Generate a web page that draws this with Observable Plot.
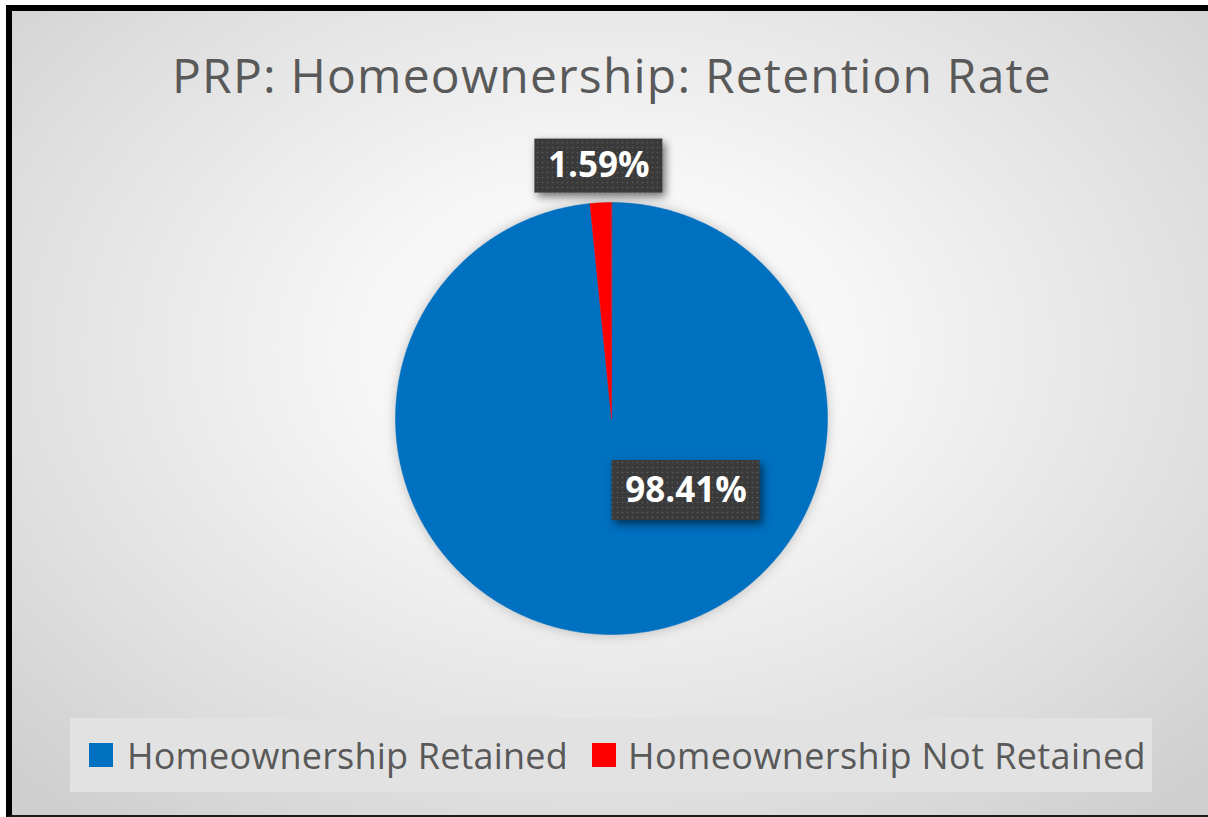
<!DOCTYPE html>
<html><head><meta charset="utf-8">
<script src="https://cdn.jsdelivr.net/npm/d3@7"></script>
<script src="https://cdn.jsdelivr.net/npm/@observablehq/plot@0.6"></script>
<style>
body{margin:0;background:#fff;width:1208px;height:817px;overflow:hidden;position:relative;font-family:"Open Sans",Lato,sans-serif;}
#frame{position:absolute;left:6px;top:5px;width:1202px;height:812px;box-sizing:border-box;border-top:6px solid #000;border-left:6px solid #000;border-bottom:2px solid #1a1a1a;
background:radial-gradient(ellipse 70% 75% at 50% 42%, #ffffff 0%, #f6f6f6 30%, #dedede 75%, #cfcfcf 100%);}
#title{position:absolute;left:172px;top:51px;color:#595959;font-size:48px;line-height:1;white-space:nowrap;}
#legendbox{position:absolute;left:70px;top:718px;width:1082px;height:74px;background:#e2e2e2;}
.sw{position:absolute;top:743px;width:24px;height:24px;}
.lt{position:absolute;top:738px;color:#595959;font-size:36px;line-height:1;white-space:nowrap;}
#chart{position:absolute;left:0;top:0;}
</style></head>
<body>
<div id="frame"></div>
<div id="title">PRP: Homeownership: Retention Rate</div>
<div id="legendbox"></div>
<div id="legend"></div>
<div id="chart"></div>
<script>
const categories = ["Homeownership Retained", "Homeownership Not Retained"];
const values = [98.41, 1.59];
const colors = ["#0070C0", "#FF0000"];
const labels = ["98.41%", "1.59%"];

// build sector outlines (clockwise from 12 o'clock, like Excel)
const total = d3.sum(values);
const sectors = [];
const labelPts = [];
let acc = 0;
categories.forEach((c, i) => {
  const a0 = acc / total * 2 * Math.PI;
  acc += values[i];
  const a1 = acc / total * 2 * Math.PI;
  sectors.push({category: c, x: 0, y: 0});
  const n = Math.max(2, Math.ceil((a1 - a0) / (Math.PI / 360)));
  for (let k = 0; k <= n; k++) {
    const a = a0 + (a1 - a0) * k / n;
    sectors.push({category: c, x: Math.sin(a), y: Math.cos(a)});
  }
  const small = values[i] / total < 0.1;
  const am = small ? (a0 + a1) / 2 : 134 * Math.PI / 180;
  const r = small ? 1.17 : 0.48;
  labelPts.push({category: c, label: labels[i], x: r * Math.sin(am), y: r * Math.cos(am), small});
});

const font = "'Open Sans', Lato, sans-serif";
const plot = Plot.plot({
  width: 1208, height: 817,
  margin: 0,
  style: {background: "transparent", overflow: "visible"},
  x: {domain: [-1, 1], range: [395, 827], axis: null},
  y: {domain: [-1, 1], range: [634, 202], axis: null},
  color: {domain: categories, range: colors},
  marks: [
    Plot.line(sectors, {x: "x", y: "y", z: "category", fill: "category", stroke: "category", strokeWidth: 0.5, curve: "linear-closed"}),
    Plot.rect(labelPts.filter(d => !d.small), {x1: "x", x2: "x", y1: "y", y2: "y", insetLeft: -74, insetRight: -74, insetTop: -30, insetBottom: -30, fill: "#3c3c3c"}),
    Plot.rect(labelPts.filter(d => d.small), {x1: "x", x2: "x", y1: "y", y2: "y", insetLeft: -64, insetRight: -64, insetTop: -27, insetBottom: -27, fill: "#3c3c3c"}),
    Plot.text(labelPts, {x: "x", y: "y", text: "label", fill: "white", fontSize: 35, fontWeight: "bold", fontFamily: font, dy: 0})
  ]
});
document.getElementById("chart").appendChild(plot);

const svg = d3.select(plot);
const defs = svg.insert("defs", ":first-child");
const pat = defs.append("pattern").attr("id", "dots").attr("width", 5).attr("height", 5).attr("patternUnits", "userSpaceOnUse");
pat.append("rect").attr("width", 5).attr("height", 5).attr("fill", "#3a3a3a");
pat.append("circle").attr("cx", 2.5).attr("cy", 2.5).attr("r", 0.8).attr("fill", "#5e5e5e");
svg.selectAll("g[aria-label=rect] rect").attr("fill", "url(#dots)").style("filter", "drop-shadow(3px 4px 4px rgba(0,0,0,0.55))");
svg.selectAll("g[aria-label=line]").style("filter", "drop-shadow(0px 0px 6px rgba(0,0,0,0.22))");

// legend
const legend = document.getElementById("legend");
const swX = [89, 592], txX = [127, 628], txW = [441, 518];
categories.forEach((c, i) => {
  const s = document.createElement("div");
  s.className = "sw"; s.style.left = swX[i] + "px"; s.style.background = colors[i];
  legend.appendChild(s);
  const t = document.createElement("div");
  t.className = "lt"; t.style.left = txX[i] + "px"; t.textContent = c;
  legend.appendChild(t);
  const w = t.getBoundingClientRect().width;
  t.style.letterSpacing = ((txW[i] - w) / c.length) + "px";
});
// fit title width to reference span
const title = document.getElementById("title");
const tw = title.getBoundingClientRect().width;
title.style.letterSpacing = ((880 - tw) / title.textContent.length) + "px";
</script>
</body></html>
